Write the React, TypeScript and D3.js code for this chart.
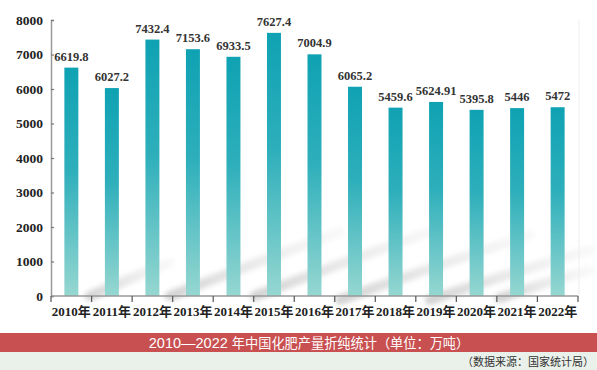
import React, { useEffect, useRef } from "react";
import * as d3 from "d3";

const years = ["2010", "2011", "2012", "2013", "2014", "2015", "2016", "2017", "2018", "2019", "2020", "2021", "2022"];
const output = [6619.8, 6027.2, 7432.4, 7153.6, 6933.5, 7627.4, 7004.9, 6065.2, 5459.6, 5624.91, 5395.8, 5446, 5472];
const labels = ["6619.8", "6027.2", "7432.4", "7153.6", "6933.5", "7627.4", "7004.9", "6065.2", "5459.6", "5624.91", "5395.8", "5446", "5472"];
const yTicks = [0, 1000, 2000, 3000, 4000, 5000, 6000, 7000, 8000];

const width = 597;
const height = 370;
const margin = { top: 20, right: 19, bottom: 74, left: 51 };

const App = () => {
  const ref = useRef<SVGSVGElement>(null);

  useEffect(() => {
    const svg = d3.select(ref.current);
    svg.selectAll("*").remove();

    const defs = svg.append("defs");
    const grad = defs
      .append("linearGradient")
      .attr("id", "barGrad")
      .attr("x1", 0)
      .attr("y1", 0)
      .attr("x2", 0)
      .attr("y2", 1);
    grad.append("stop").attr("offset", "0%").attr("stop-color", "#0fa2b3");
    grad.append("stop").attr("offset", "45%").attr("stop-color", "#2eafbb");
    grad.append("stop").attr("offset", "100%").attr("stop-color", "#96d7d1");

    const swoosh = defs
      .append("linearGradient")
      .attr("id", "swoosh")
      .attr("x1", 0)
      .attr("y1", 1)
      .attr("x2", 1)
      .attr("y2", 0);
    swoosh.append("stop").attr("offset", "0%").attr("stop-color", "#c4c4c4").attr("stop-opacity", 1);
    swoosh.append("stop").attr("offset", "100%").attr("stop-color", "#e2e2e2").attr("stop-opacity", 0.3);

    defs
      .append("filter")
      .attr("id", "soft")
      .append("feGaussianBlur")
      .attr("stdDeviation", 2.5);

    const x = d3
      .scaleBand()
      .domain(years)
      .range([margin.left, width - margin.right])
      .paddingInner(0.655)
      .paddingOuter(0.33);

    const y = d3
      .scaleLinear()
      .domain([0, 8000])
      .range([height - margin.bottom, margin.top]);

    // faint diagonal decoration in the plot background
    const deco = svg.append("g").attr("filter", "url(#soft)");
    [
      [90, 296, 170, 262],
      [170, 296, 340, 232],
      [255, 296, 440, 228],
      [340, 300, 530, 235],
      [430, 300, 590, 250],
      [500, 298, 590, 270],
    ].forEach(([x0, y0, x1, y1]) => {
      deco
        .append("path")
        .attr("d", `M${x0},${y0} Q${(x0 + x1) / 2 + 10},${(y0 + y1) / 2 - 5} ${x1},${y1}`)
        .attr("fill", "none")
        .attr("stroke", "url(#swoosh)")
        .attr("stroke-width", 10)
        .attr("stroke-linecap", "round")
        .attr("opacity", 0.75);
    });

    // right faint border
    svg
      .append("line")
      .attr("x1", 579)
      .attr("x2", 579)
      .attr("y1", 20)
      .attr("y2", 296)
      .attr("stroke", "#eeeeee");

    svg
      .selectAll("rect.bar")
      .data(output)
      .join("rect")
      .attr("class", "bar")
      .attr("x", (_, i) => x(years[i])!)
      .attr("y", (d) => y(d))
      .attr("width", x.bandwidth())
      .attr("height", (d) => y(0) - y(d))
      .attr("fill", "url(#barGrad)");

    svg
      .selectAll("text.val")
      .data(output)
      .join("text")
      .attr("class", "val")
      .attr("x", (_, i) => x(years[i])! + x.bandwidth() / 2)
      .attr("y", (d) => y(d) - 7)
      .attr("text-anchor", "middle")
      .attr("font-family", "'Liberation Serif', serif")
      .attr("font-weight", "bold")
      .attr("font-size", 12.5)
      .attr("fill", "#333")
      .text((_, i) => labels[i]);

    const yAxis = svg
      .append("g")
      .attr("transform", `translate(${margin.left},0)`)
      .call(
        d3
          .axisRight(y)
          .tickValues(yTicks)
          .tickSize(3)
          .tickFormat(() => "")
      );
    yAxis.select(".domain").attr("stroke", "#999").attr("stroke-width", 1.5);
    yAxis.selectAll(".tick line").attr("stroke", "#777").attr("stroke-width", 1.2);

    svg
      .append("g")
      .selectAll("text")
      .data(yTicks)
      .join("text")
      .attr("x", margin.left - 8)
      .attr("y", (d) => y(d))
      .attr("dy", "0.35em")
      .attr("text-anchor", "end")
      .attr("font-family", "'Liberation Serif', serif")
      .attr("font-weight", "bold")
      .attr("font-size", 13.5)
      .attr("fill", "#222")
      .text((d) => d);

    const xBoundaries = [...years.map((yr) => x(yr)! - (x.step() * x.paddingInner()) / 2), width - margin.right];
    const xAxis = svg.append("g");
    xAxis
      .append("line")
      .attr("x1", margin.left)
      .attr("x2", width - margin.right)
      .attr("y1", y(0))
      .attr("y2", y(0))
      .attr("stroke", "#999")
      .attr("stroke-width", 1.5);
    xAxis
      .selectAll("line.tk")
      .data([margin.left, ...xBoundaries.slice(1)])
      .join("line")
      .attr("class", "tk")
      .attr("x1", (d) => d)
      .attr("x2", (d) => d)
      .attr("y1", y(0))
      .attr("y2", y(0) + 6)
      .attr("stroke", "#555")
      .attr("stroke-width", 1.2);

    xAxis
      .selectAll("text")
      .data(years)
      .join("text")
      .attr("x", (d) => x(d)! + x.bandwidth() / 2)
      .attr("y", y(0) + 20)
      .attr("text-anchor", "middle")
      .attr("font-family", "'Liberation Serif', 'Noto Sans CJK SC', serif")
      .attr("font-weight", "bold")
      .attr("font-size", 13)
      .attr("fill", "#222")
      .text((d) => `${d}年`);

    // title banner
    svg
      .append("rect")
      .attr("x", 0)
      .attr("y", 333)
      .attr("width", width)
      .attr("height", 19)
      .attr("fill", "#c85050");
    svg
      .append("rect")
      .attr("x", 0)
      .attr("y", 352)
      .attr("width", width)
      .attr("height", 18)
      .attr("fill", "#eaf0ea");
    const title = svg
      .append("text")
      .attr("x", 309)
      .attr("y", 348)
      .attr("text-anchor", "middle")
      .attr("fill", "#fff");
    title
      .append("tspan")
      .attr("font-family", "'Liberation Sans', Arial, sans-serif")
      .attr("font-size", 14.5)
      .text("2010—2022 ");
    title
      .append("tspan")
      .attr("font-family", "'Noto Sans CJK SC', sans-serif")
      .attr("font-size", 13.2)
      .text("年中国化肥产量折纯统计（单位：万吨）");
    svg
      .append("text")
      .attr("x", 594)
      .attr("y", 366)
      .attr("text-anchor", "end")
      .attr("font-family", "'Noto Sans CJK SC', sans-serif")
      .attr("font-size", 11)
      .attr("fill", "#333")
      .text("（数据来源：国家统计局）");
  }, []);

  return (
    <svg
      ref={ref}
      width={width}
      height={height}
      style={{ position: "absolute", left: 0, top: 0, background: "#fff" }}
    />
  );
};

export default App;
